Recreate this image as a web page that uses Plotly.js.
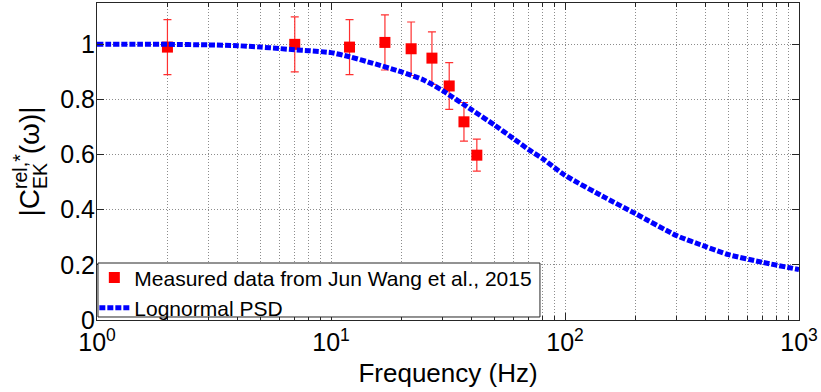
<!DOCTYPE html>
<html>
<head>
<meta charset="utf-8">
<script src="https://cdn.plot.ly/plotly-3.0.1.min.js"></script>
<style>html,body{margin:0;padding:0;background:#fff;}#chart{width:821px;height:392px;}</style>
</head>
<body>
<div id="chart"></div>
<script>
// Measured data (Jun Wang et al., 2015)
const measFreq = [2, 7, 12, 17, 22, 27, 32, 37, 42];
const measVal  = [0.990, 1.000, 0.990, 1.007, 0.984, 0.950, 0.849, 0.719, 0.598];
const measErr  = [0.100, 0.100, 0.100, 0.100, 0.097, 0.095, 0.085, 0.070, 0.058];

// Lognormal PSD curve
const psdFreq = [1, 1.5, 2, 3, 4, 5, 6, 7, 8, 10, 12, 15, 20, 25, 30, 40, 50, 60, 70, 80, 100, 150, 200, 300, 400, 500, 700, 1000];
const psdVal  = [1.000, 1.000, 1.000, 0.998, 0.995, 0.990, 0.985, 0.980, 0.977, 0.970, 0.955, 0.932, 0.900, 0.870, 0.832, 0.762, 0.707, 0.659, 0.618, 0.586, 0.525, 0.442, 0.386, 0.306, 0.266, 0.237, 0.209, 0.183];

// Axis ticks
const xTickVals = [1, 10, 100, 1000];
const xTickText = ['10<sup>0</sup>', '10<sup>1</sup>', '10<sup>2</sup>', '10<sup>3</sup>'];
const xMinorVals = [2,3,4,5,6,7,8,9,20,30,40,50,60,70,80,90,200,300,400,500,600,700,800,900];
const yTickVals = [0, 0.2, 0.4, 0.6, 0.8, 1];
const yTickText = ['0', '0.2', '0.4', '0.6', '0.8', '1'];

const FONT = 'Liberation Sans, Arial, sans-serif';
const frame = '#262626';
const grid = '#8c8c8c';
const gridDash = '1px,2px';

const traces = [
  {
    x: measFreq, y: measVal, type: 'scatter', mode: 'markers',
    name: 'Measured data from Jun Wang et al., 2015',
    marker: {symbol: 'square', size: 11, color: '#ff0000'},
    error_y: {type: 'data', array: measErr, visible: true, color: '#ff3030', thickness: 1.2, width: 4}
  },
  {
    x: psdFreq, y: psdVal, type: 'scatter', mode: 'lines',
    name: 'Lognormal PSD',
    line: {color: '#0000ff', width: 5, dash: '6px,2px', shape: 'spline', smoothing: 0.6}
  }
];

const layout = {
  width: 821, height: 392,
  margin: {l: 97, r: 22, t: 3, b: 72},
  paper_bgcolor: '#ffffff', plot_bgcolor: '#ffffff',
  font: {family: FONT, color: '#000', size: 25},
  showlegend: true,
  legend: {
    x: -0.0038, y: 0.198, xanchor: 'left', yanchor: 'top',
    bgcolor: 'rgba(0,0,0,0)', borderwidth: 0,
    font: {family: FONT, size: 21, color: '#000'},
    tracegroupgap: 0, itemwidth: 30
  },
  shapes: [
    {type: 'rect', xref: 'paper', yref: 'paper', x0: 0.0014, x1: 0.631, y0: 0.0095, y1: 0.1798,
     fillcolor: '#ffffff', line: {color: frame, width: 1}, layer: 'above'}
  ],
  annotations: [
    {text: 'EK', xref: 'paper', yref: 'paper', x: -0.0812, y: 0.454, xanchor: 'center', yanchor: 'middle',
     textangle: -90, showarrow: false, font: {family: FONT, size: 19.6, color: '#000'}}
  ],
  xaxis: {
    type: 'log', range: [0, 3],
    tickmode: 'array', tickvals: xTickVals, ticktext: xTickText,
    tickfont: {size: 25},
    ticks: 'inside', ticklen: 7, tickcolor: frame,
    showline: true, linecolor: frame, linewidth: 1, mirror: 'allticks',
    showgrid: true, gridcolor: grid, griddash: gridDash, gridwidth: 1,
    zeroline: false,
    minor: {tickmode: 'array', tickvals: xMinorVals, ticks: 'inside', ticklen: 4, tickcolor: frame,
            showgrid: true, gridcolor: grid, griddash: gridDash, gridwidth: 1},
    title: {text: 'Frequency (Hz)', font: {size: 26}, standoff: 8}
  },
  yaxis: {
    range: [0, 1.15],
    tickmode: 'array', tickvals: yTickVals, ticktext: yTickText,
    tickfont: {size: 25}, ticklabelstandoff: -4,
    ticks: 'inside', ticklen: 7, tickcolor: frame,
    showline: true, linecolor: frame, linewidth: 1, mirror: 'allticks',
    showgrid: true, gridcolor: grid, griddash: gridDash, gridwidth: 1,
    zeroline: false,
    title: {text: '|C<sup>rel,*</sup>(ω)|', font: {size: 28}, standoff: 12}
  }
};

Plotly.newPlot('chart', traces, layout, {staticPlot: true, displayModeBar: false});
</script>
</body>
</html>
